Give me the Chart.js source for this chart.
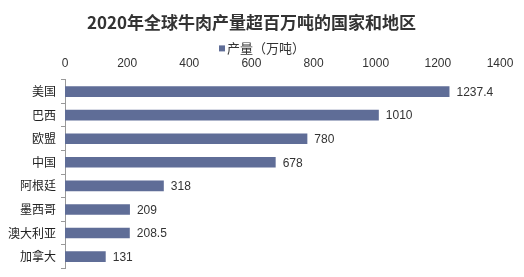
<!DOCTYPE html>
<html>
<head>
<meta charset="utf-8">
<script src="https://cdn.jsdelivr.net/npm/chart.js@4"></script>
<style>
  html, body { margin: 0; padding: 0; background: #fff; }
  #wrap { width: 524px; height: 277px; }
</style>
</head>
<body>
<div id="wrap"><canvas id="beefChart" width="524" height="277"></canvas></div>
<script>
const regions = ['美国', '巴西', '欧盟', '中国', '阿根廷', '墨西哥', '澳大利亚', '加拿大'];
const output = [1237.4, 1010, 780, 678, 318, 209, 208.5, 131];
const seriesName = '产量（万吨）';
const chartTitle = '2020年全球牛肉产量超百万吨的国家和地区';

const barColor = '#5f6d97';

// value labels at the end of each bar
const barValueLabels = {
  id: 'barValueLabels',
  afterDatasetsDraw(chart) {
    const c = chart.ctx;
    const meta = chart.getDatasetMeta(0);
    c.save();
    c.font = '12px "Liberation Sans", Arial, sans-serif';
    c.fillStyle = '#333';
    c.textAlign = 'left';
    c.textBaseline = 'middle';
    meta.data.forEach((bar, i) => {
      c.fillText(String(output[i]), bar.x + 7, bar.y + 1);
    });
    c.restore();
  }
};

// small legend under the title (built-in one needs too much height)
const compactLegend = {
  id: 'compactLegend',
  afterDraw(chart) {
    const c = chart.ctx;
    const tb = chart.titleBlock;
    const y = tb.bottom + 1;
    c.save();
    c.font = '13px "Noto Sans CJK SC", sans-serif';
    const tw = c.measureText(seriesName).width;
    const box = 6, gap = 2;
    let x = chart.width / 2 - (box + gap + tw) / 2;
    c.fillStyle = barColor;
    c.fillRect(x, y - box / 2, box, box);
    c.fillStyle = '#333';
    c.textBaseline = 'middle';
    c.textAlign = 'left';
    c.fillText(seriesName, x + box + gap, y);
    c.restore();
  }
};

new Chart(document.getElementById('beefChart').getContext('2d'), {
  type: 'bar',
  data: {
    labels: regions,
    datasets: [{
      label: seriesName,
      data: output,
      backgroundColor: barColor,
      borderWidth: 0,
      barPercentage: 0.45,
      categoryPercentage: 1
    }]
  },
  options: {
    indexAxis: 'y',
    responsive: false,
    animation: false,
    layout: { padding: { left: 3, right: 24, top: 0, bottom: 0 } },
    scales: {
      x: {
        position: 'top',
        min: 0,
        max: 1400,
        ticks: {
          stepSize: 200,
          color: '#333',
          font: { family: '"Liberation Sans", Arial, sans-serif', size: 12 },
          padding: 9,
          callback: v => String(v)
        },
        grid: { display: false, drawTicks: false },
        border: { display: false }
      },
      y: {
        ticks: { color: '#222', font: { family: '"Noto Sans CJK SC", sans-serif', size: 12, lineHeight: 0.6 }, padding: 5 },
        grid: { drawOnChartArea: false, tickLength: 4, color: '#999', offset: true },
        border: { color: '#999' }
      }
    },
    plugins: {
      title: {
        display: true,
        text: chartTitle,
        color: '#333',
        font: { family: '"Noto Sans CJK SC", sans-serif', size: 17, weight: 'bold' },
        padding: { top: 12, bottom: 15 }
      },
      legend: { display: false },
      tooltip: { enabled: false }
    }
  },
  plugins: [barValueLabels, compactLegend]
});
</script>
</body>
</html>
